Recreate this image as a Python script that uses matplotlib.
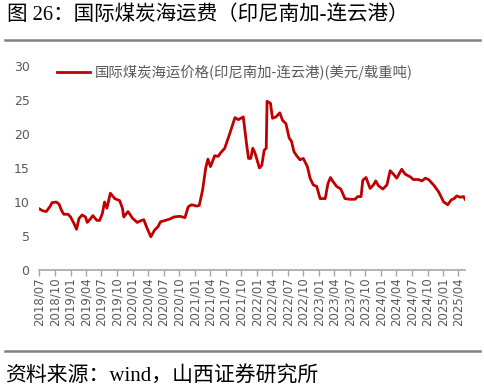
import matplotlib
matplotlib.use("Agg")
import matplotlib.pyplot as plt
import matplotlib.dates as mdates
from matplotlib.lines import Line2D
import pandas as pd

plt.rcParams['font.family'] = ['Noto Sans CJK SC', 'DejaVu Sans']

# 国际煤炭海运价格(印尼南加-连云港) 美元/载重吨
dates = ["2018-07-01", "2018-07-22", "2018-08-11", "2018-09-01", "2018-09-14", "2018-10-09",
         "2018-10-25", "2018-11-08", "2018-11-22", "2018-12-17", "2019-01-01", "2019-01-20",
         "2019-02-05", "2019-02-20", "2019-03-10", "2019-03-30", "2019-04-09", "2019-04-27",
         "2019-05-12", "2019-06-05", "2019-06-21", "2019-07-07", "2019-07-20", "2019-08-03",
         "2019-08-23", "2019-09-18", "2019-10-17", "2019-11-02", "2019-11-10", "2019-12-05",
         "2020-01-01", "2020-01-28", "2020-02-23", "2020-03-07", "2020-03-22", "2020-04-17",
         "2020-05-10", "2020-05-30", "2020-06-13", "2020-07-12", "2020-08-07", "2020-08-31",
         "2020-10-05", "2020-11-04", "2020-11-23", "2020-12-13", "2021-01-12", "2021-01-27",
         "2021-02-16", "2021-03-06", "2021-03-19", "2021-04-03", "2021-04-28", "2021-05-18",
         "2021-06-01", "2021-06-26", "2021-07-26", "2021-08-25", "2021-09-14", "2021-10-13",
         "2021-11-02", "2021-11-13", "2021-11-26", "2021-12-08", "2021-12-21", "2022-01-16",
         "2022-01-30", "2022-02-13", "2022-02-25", "2022-03-02", "2022-03-22", "2022-04-03",
         "2022-04-23", "2022-05-16", "2022-06-01", "2022-06-21", "2022-07-10", "2022-07-24",
         "2022-08-07", "2022-08-23", "2022-09-12", "2022-10-01", "2022-10-25", "2022-11-10",
         "2022-11-29", "2022-12-19", "2023-01-08", "2023-02-07", "2023-02-23", "2023-03-10",
         "2023-03-25", "2023-04-15", "2023-05-10", "2023-06-03", "2023-07-03", "2023-08-01",
         "2023-08-17", "2023-09-06", "2023-09-16", "2023-10-05", "2023-10-29", "2023-11-17",
         "2023-12-01", "2023-12-17", "2024-01-12", "2024-02-05", "2024-02-24", "2024-03-14",
         "2024-04-03", "2024-04-18", "2024-05-02", "2024-05-22", "2024-06-21", "2024-07-10",
         "2024-08-09", "2024-08-29", "2024-09-18", "2024-10-07", "2024-11-06", "2024-12-05",
         "2025-01-04", "2025-01-28", "2025-02-17", "2025-03-06", "2025-03-22", "2025-04-11",
         "2025-05-01", "2025-05-10"]
price = [9.0, 8.7, 8.6, 9.3, 9.9, 10.0,
         9.7, 8.8, 8.2, 8.2, 7.8, 6.9,
         6.0, 7.6, 8.1, 7.8, 7.0, 7.5,
         8.0, 7.3, 7.3, 8.3, 10.0, 9.1,
         11.3, 10.5, 10.2, 9.1, 7.8, 8.6,
         7.6, 7.0, 7.3, 7.4, 6.4, 4.9,
         5.9, 6.4, 7.1, 7.3, 7.5, 7.8,
         7.9, 7.7, 9.3, 9.6, 9.4, 9.5,
         11.8, 15.0, 16.3, 15.2, 16.8, 16.7,
         17.2, 17.9, 20.1, 22.4, 22.1, 22.5,
         18.4, 16.4, 16.4, 17.9, 17.2, 15.0,
         15.4, 17.6, 17.9, 24.8, 24.5, 22.3,
         22.5, 23.1, 22.0, 21.5, 19.4, 18.9,
         17.4, 16.8, 16.2, 16.4, 15.2, 13.5,
         12.5, 12.3, 10.5, 10.5, 12.7, 13.6,
         13.0, 12.3, 11.9, 10.5, 10.4, 10.4,
         10.8, 10.8, 13.2, 13.6, 12.0, 12.5,
         13.1, 12.4, 11.9, 12.5, 14.6, 14.1,
         13.5, 14.2, 14.8, 14.1, 13.7, 13.3,
         13.3, 13.1, 13.5, 13.3, 12.5, 11.5,
         10.0, 9.6, 10.3, 10.5, 10.9, 10.7,
         10.8, 10.4]
series_name = "国际煤炭海运价格(印尼南加-连云港)(美元/载重吨)"
yticks = [0, 5, 10, 15, 20, 25, 30]

x = pd.to_datetime(dates)
xticks = pd.date_range("2018-07-01", "2025-04-01", freq="3MS")

fig = plt.figure(figsize=(4.85, 3.92), dpi=100)
ax = fig.add_axes([0.081, 0.311, 0.878, 0.521])

ax.plot(x, price, color="#C00000", lw=2.0, label=series_name)

ax.set_ylim(0, 30)
ax.set_yticks(yticks)
ax.set_xlim(x[0], x[-1])
ax.set_xticks(xticks)
ax.xaxis.set_major_formatter(mdates.DateFormatter("%Y/%m"))

for s in ["top", "right", "left"]:
    ax.spines[s].set_visible(False)
ax.spines["bottom"].set_color("#A6A6A6")
ax.spines["bottom"].set_linewidth(1.2)

ax.tick_params(axis="y", length=0, pad=7, labelsize=9, labelcolor="#595959")
ax.tick_params(axis="x", direction="out", length=4, width=1, color="#A6A6A6",
               pad=1, labelsize=8.5, labelcolor="#595959", labelrotation=90)
for lab in ax.get_xticklabels() + ax.get_yticklabels():
    lab.set_family(["DejaVu Sans"])

leg = ax.legend(loc="upper left", bbox_to_anchor=(0.1175, 0.834), bbox_transform=fig.transFigure,
                frameon=False, borderaxespad=0, borderpad=0, handlelength=2.3,
                handletextpad=0.35, fontsize=10.35)
for t in leg.get_texts():
    t.set_color("#595959")

# 标题, 分隔线, 资料来源
fig.text(0.014, 0.962, "图 26：国际煤炭海运费（印尼南加-连云港）", fontsize=14.8, va="center",
         ha="left", family=["Liberation Serif", "Noto Sans CJK SC"], color="#000000")
fig.add_artist(Line2D([0.01, 0.99], [1 - 40 / 392, 1 - 40 / 392], color="#808080", lw=1.8))
fig.add_artist(Line2D([0.01, 0.99], [1 - 351 / 392, 1 - 351 / 392], color="#808080", lw=1.8))
fig.text(0.01, 1 - 377 / 392, "资料来源：wind，山西证券研究所", fontsize=15, va="center",
         ha="left", family=["Liberation Serif", "Noto Sans CJK SC"], color="#000000")

fig.savefig("out.png", dpi=100)
